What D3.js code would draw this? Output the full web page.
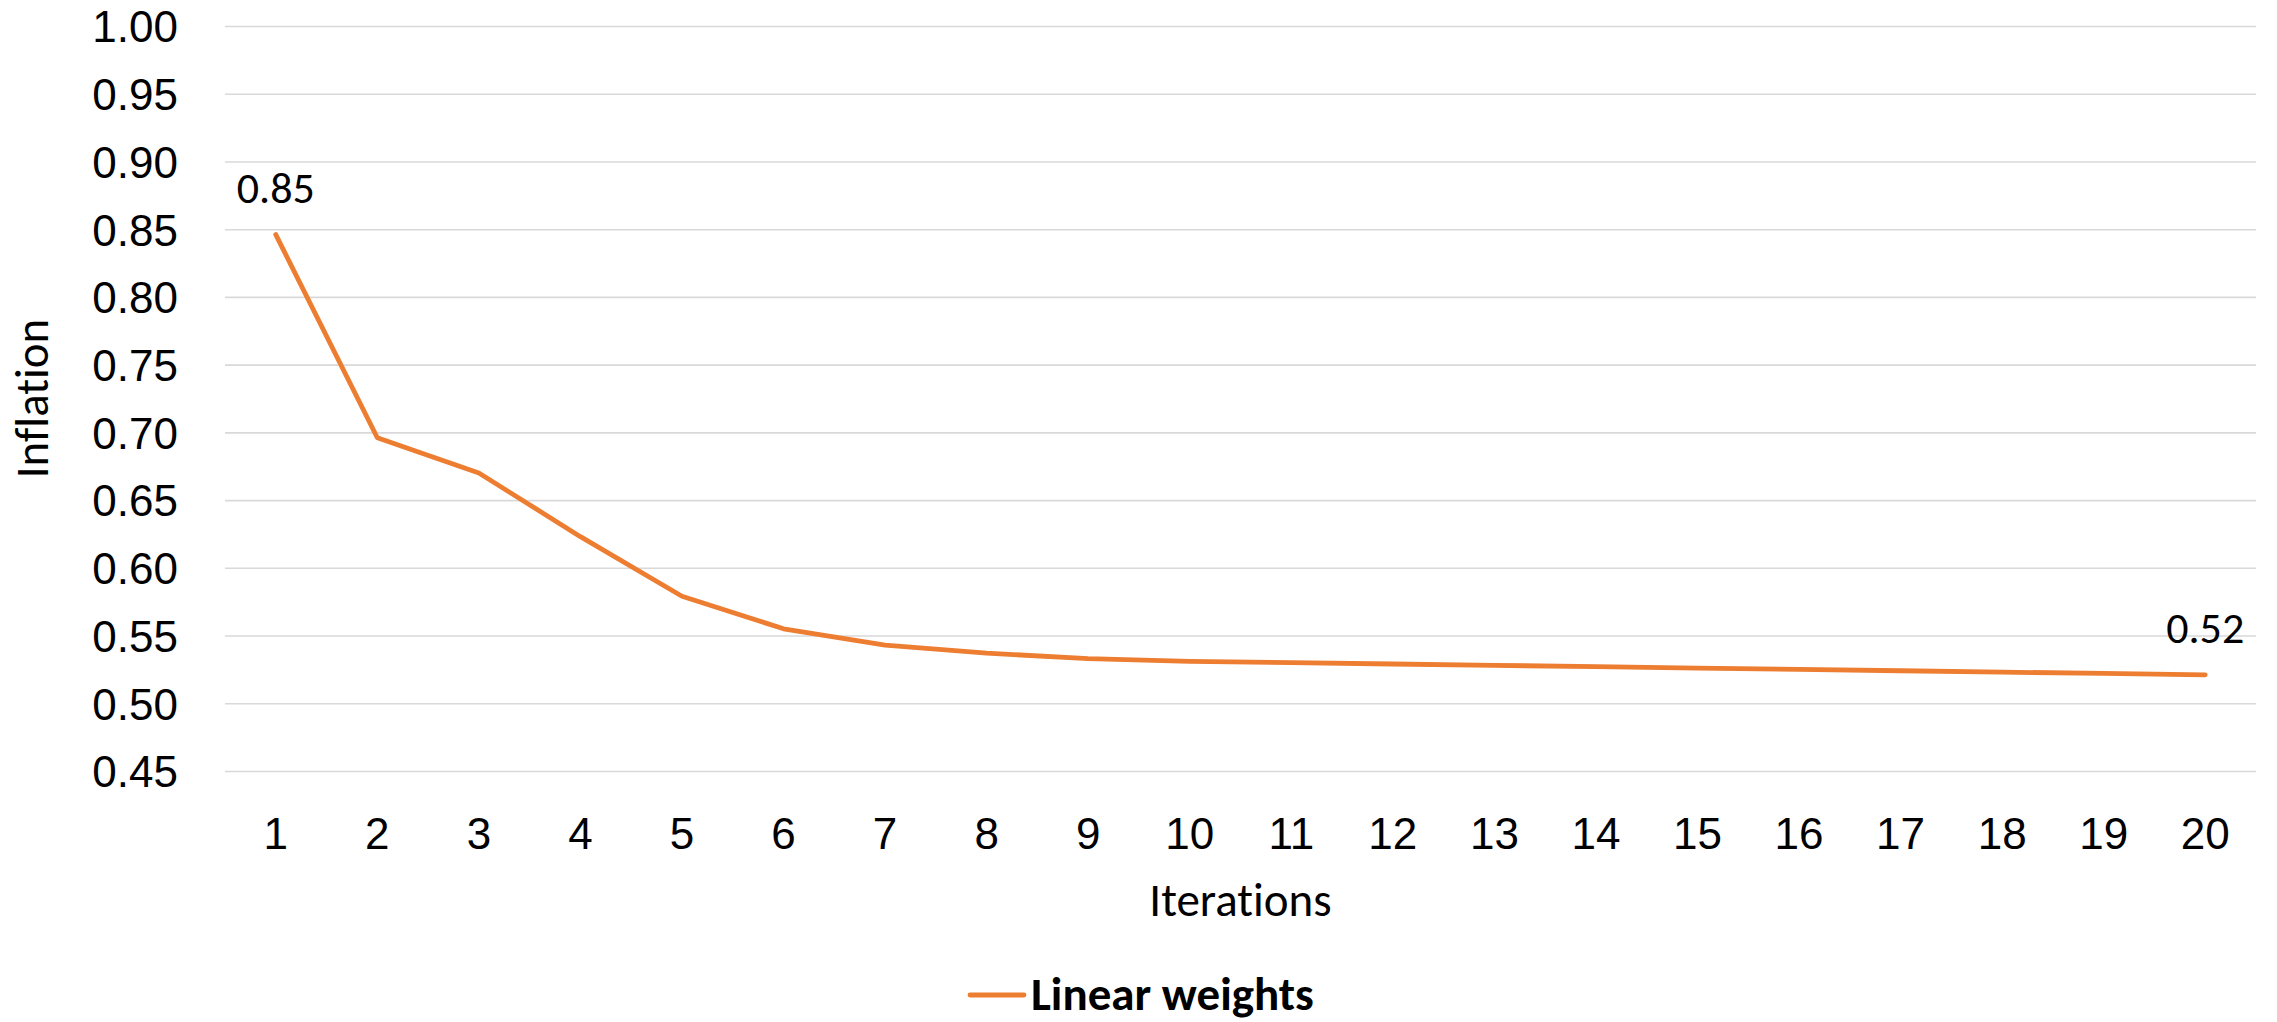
<!DOCTYPE html>
<html>
<head>
<meta charset="utf-8">
<script src="https://cdn.jsdelivr.net/npm/d3@7"></script>
<style>
  html, body { margin: 0; padding: 0; background: #ffffff; }
  svg { display: block; font-family: Calibri, Carlito, Lato, "Open Sans", sans-serif;
        font-variant-ligatures: none; font-feature-settings: "liga" 0; }
</style>
</head>
<body>
<svg id="chart" width="2277" height="1022"></svg>
<script>
// Inflation per iteration, linear weighting scheme
const iterations = ["1", "2", "3", "4", "5", "6", "7", "8", "9", "10",
                    "11", "12", "13", "14", "15", "16", "17", "18", "19", "20"];
const linearWeights = [0.846, 0.696, 0.670, 0.623, 0.579, 0.555, 0.543, 0.537, 0.533, 0.531,
                       0.530, 0.529, 0.528, 0.527, 0.526, 0.525, 0.524, 0.523, 0.522, 0.521];
const yTicks = [0.45, 0.50, 0.55, 0.60, 0.65, 0.70, 0.75, 0.80, 0.85, 0.90, 0.95, 1.00];
const seriesName = "Linear weights";
const xTitle = "Iterations";
const yTitle = "Inflation";
const labelledIndices = [0, 19];   // first and last points carry value labels

const plot = { left: 225, right: 2256, top: 26, bottom: 771 };
const orange = "#ED7D31";
const tickFont = 44;
const titleFont = 47;

const svg = d3.select("#chart");

const x = d3.scaleBand().domain(iterations).range([plot.left, plot.right]).padding(0);
const y = d3.scaleLinear().domain([0.45, 1.00]).range([plot.bottom, plot.top]);
const cx = d => x(d) + x.bandwidth() / 2;

// horizontal gridlines
svg.append("g")
  .attr("transform", `translate(${plot.left},0)`)
  .call(d3.axisLeft(y).tickValues(yTicks).tickSize(-(plot.right - plot.left)).tickFormat(""))
  .call(g => g.select(".domain").remove())
  .call(g => g.selectAll(".tick line").attr("stroke", "#d9d9d9").attr("stroke-width", 1.6));

// y tick labels
svg.append("g")
  .attr("transform", `translate(178,0)`)
  .call(d3.axisLeft(y).tickValues(yTicks).tickSize(0).tickPadding(0).tickFormat(d3.format(".2f")))
  .call(g => g.select(".domain").remove())
  .call(g => g.selectAll(".tick text")
    .attr("font-size", tickFont).attr("font-family", null)
    .attr("fill", "#000").attr("dy", "0.36em"));

// x tick labels
svg.append("g")
  .attr("transform", `translate(0,849)`)
  .call(d3.axisBottom(x).tickSize(0).tickPadding(0))
  .call(g => g.select(".domain").remove())
  .call(g => g.selectAll(".tick text")
    .attr("font-size", tickFont).attr("font-family", null)
    .attr("fill", "#000").attr("y", 0).attr("dy", 0));

// series line
const line = d3.line()
  .x((d, i) => cx(iterations[i]))
  .y(d => y(d));

svg.append("path")
  .datum(linearWeights)
  .attr("d", line)
  .attr("fill", "none")
  .attr("stroke", orange)
  .attr("stroke-width", 4.8)
  .attr("stroke-linecap", "round")
  .attr("stroke-linejoin", "round");

// value labels
svg.append("g")
  .selectAll("text")
  .data(labelledIndices)
  .join("text")
  .attr("x", i => cx(iterations[i]))
  .attr("y", i => y(linearWeights[i]) - 32)
  .attr("text-anchor", "middle")
  .attr("font-size", tickFont)
  .attr("fill", "#000")
  .text(i => d3.format(".2f")(linearWeights[i]));

// axis titles
svg.append("text")
  .attr("x", (plot.left + plot.right) / 2)
  .attr("y", 916)
  .attr("text-anchor", "middle")
  .attr("font-size", titleFont)
  .attr("fill", "#000")
  .text(xTitle);

svg.append("text")
  .attr("transform", `translate(48,${(plot.top + plot.bottom) / 2}) rotate(-90)`)
  .attr("text-anchor", "middle")
  .attr("font-size", titleFont)
  .attr("fill", "#000")
  .text(yTitle);

// legend
const legend = svg.append("g").attr("transform", "translate(970,995)");
legend.append("line")
  .attr("x1", 0).attr("x2", 54).attr("y1", 0).attr("y2", 0)
  .attr("stroke", orange).attr("stroke-width", 4.8).attr("stroke-linecap", "round");
legend.append("text")
  .attr("x", 61).attr("y", 15)
  .attr("font-size", titleFont)
  .attr("font-weight", "bold")
  .attr("fill", "#000")
  .text(seriesName);
</script>
</body>
</html>
